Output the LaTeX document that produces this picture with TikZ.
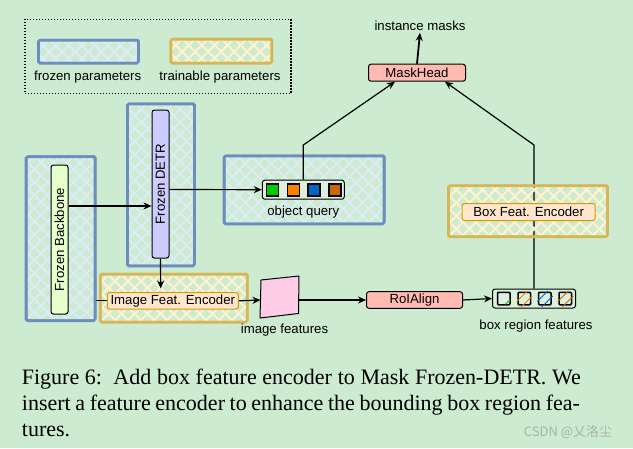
\documentclass[tikz,border=0pt]{standalone}
\usepackage{fontspec}
\setmainfont{Liberation Serif}
\setsansfont{Liberation Sans}
\newfontfamily\cjkfont{Noto Sans CJK SC}
\usetikzlibrary{arrows.meta,calc}
\definecolor{bg}{HTML}{CDEBD0}
\definecolor{frzline}{HTML}{6C8EBF}
\definecolor{frzhatch}{HTML}{DDEBF7}
\definecolor{trnline}{HTML}{D6B656}
\definecolor{trnhatch}{HTML}{FFF2CC}
\definecolor{detrfill}{HTML}{CCCCFF}
\definecolor{bbfill}{HTML}{E6FFCC}
\definecolor{salmon}{HTML}{FFBBB2}
\definecolor{encfill}{HTML}{FFE6CC}
\definecolor{encline}{HTML}{D79B00}
\definecolor{imgfill}{HTML}{FFCCE6}
\definecolor{qgreen}{HTML}{00CC00}
\definecolor{qorange}{HTML}{FF8000}
\definecolor{qblue}{HTML}{0066CC}
\definecolor{qbrown}{HTML}{CC6600}
\definecolor{qfill}{HTML}{DDF0DD}
\definecolor{wmgray}{HTML}{A8B5A9}
\newcommand{\dfont}{\sffamily\fontsize{13.2}{15}\selectfont}
\newcommand{\capfont}{\rmfamily\fontsize{22}{26}\selectfont}
\tikzset{
  hatchbox/.style 2 args={
    path picture={
      \foreach \k in {-182,-169,...,182} {
        \draw[#2, line width=2pt] ([xshift=\k pt]path picture bounding box.south west) -- ++(220pt,220pt);
        \draw[#2, line width=2pt] ([xshift=\k pt]path picture bounding box.south east) -- ++(-220pt,220pt);
      }
    },
    draw=#1, line width=2.6pt, rounded corners=1.5pt, inner sep=0pt,
    postaction={draw=#1, line width=1.2pt, transform canvas={shift={(0.9pt,0.8pt)}}}},
  frozen/.style={hatchbox={frzline}{frzhatch}},
  trainable/.style={hatchbox={trnline}{trnhatch}},
  blk/.style={draw=black, line width=1pt, rounded corners=2.5pt, inner sep=0pt, font=\dfont},
  enc/.style={blk, draw=encline, fill=encfill},
  lbl/.style={font=\dfont, inner sep=0pt},
  qsq/.style={draw=black, line width=1.6pt, minimum size=12pt, inner sep=0pt},
  cellbox/.style={draw=black, line width=1.5pt, minimum size=12.5pt, inner sep=0pt, rounded corners=1pt},
  arr/.style={-{Stealth[length=8pt,width=7pt]}, line width=1.2pt},
  plain/.style={line width=1.2pt}
}
\begin{document}
\begin{tikzpicture}[x=1pt,y=-1pt]
\useasboundingbox (0,0) rectangle (633,448);
\fill[bg] (0,0) rectangle (633,448);

% legend
\node[draw, dash pattern=on 1.3pt off 1.7pt, line width=1.3pt, minimum width=266pt, minimum height=74.4pt, inner sep=0pt] (legend) at (158,56.5) {};
\node[frozen, minimum width=100pt, minimum height=23pt] (legF) at (88.3,51.7) {};
\node[trainable, minimum width=101pt, minimum height=24pt] (legT) at (221.2,51.2) {};
\node[lbl, anchor=base] (legFt) at (87.7,80) {frozen parameters};
\node[lbl, anchor=base] (legTt) at (220,80) {trainable parameters};

% containers
\node[frozen, minimum width=67pt, minimum height=162pt] (detrC) at (160.8,185) {};
\node[frozen, minimum width=69pt, minimum height=164pt] (bbC) at (60.5,238.7) {};
\node[frozen, minimum width=160pt, minimum height=68pt] (oqC) at (304,190) {};
\node[trainable, minimum width=147pt, minimum height=48pt] (ifC) at (173.6,298.2) {};

% main nodes
\node[blk, fill=detrfill, minimum width=17pt, minimum height=148pt] (detr) at (160.5,184) {\rotatebox{90}{Frozen DETR}};
\node[blk, fill=bbfill, minimum width=17pt, minimum height=149pt] (bb) at (59.5,239.5) {\rotatebox{90}{Frozen Backbone}};
\node[blk, fill=qfill, minimum width=82pt, minimum height=19pt] (oq) at (303.3,189.7) {};
\node[qsq, fill=qgreen] (q1) at (272.6,189.7) {};
\node[qsq, fill=qorange] (q2) at (293.4,189.7) {};
\node[qsq, fill=qblue] (q3) at (314.2,189.7) {};
\node[qsq, fill=qbrown] (q4) at (335,189.7) {};
\node[lbl, anchor=base] (oqt) at (303.3,215.5) {object query};

\node[blk, fill=salmon, minimum width=97pt, minimum height=17pt] (mh) at (417,72.7) {MaskHead};
\node[lbl, anchor=base] (im) at (420,30.5) {instance masks};

\node[enc, minimum width=131pt, minimum height=16.5pt] (ife) at (172.8,300.8) {Image Feat. Encoder};
\node[blk, fill=salmon, minimum width=96pt, minimum height=16.6pt] (roi) at (414.5,300) {RoIAlign};
\node[blk, fill=qfill, minimum width=83pt, minimum height=19pt] (brf) at (534,298.5) {};
\foreach \i in {0,1,2,3} {
  \node[cellbox] (c\i) at (503.8+20.5*\i,298.5) {};
}
\draw[qgreen, line width=0.9pt] ($(c0.center)+(1.5,6)$) -- ($(c0.center)+(6,1.5)$);
\foreach \i/\c in {1/qorange,2/qblue,3/qbrown} {
  \draw[\c, line width=0.9pt] ($(c\i.center)+(-3,8.5)$) -- ($(c\i.center)+(8,-2.5)$);
  \draw[\c, line width=0.9pt] ($(c\i.center)+(-7.5,3)$) -- ($(c\i.center)+(3,-7.5)$);
}
\node[lbl, anchor=base] (brft) at (536,329) {box region features};

% image features
\coordinate (imgL) at (260.5,300);
\coordinate (imgR) at (298.5,300);
\draw[fill=imgfill, line width=1pt, line join=round] (261,280) -- (299,276) -- (298.5,313.5) -- (260,318) -- cycle;
\node[lbl, anchor=base] (imgt) at (284.5,333) {image features};

% connectors
\coordinate (yA) at (0,206);
\coordinate (yB) at (0,189.5);
\coordinate (ifeTop) at (160.7,288.5);
\coordinate (kL) at (303.3,145);
\coordinate (kR) at (534,145);
\draw[arr] (bb.east |- yA) -- (detr.west |- yA);
\draw[arr] (detr.east |- yB) -- (oq.west);
\draw[arr] (detr.south) -- (ifeTop);
\draw[plain] (bbC.east |- ife.west) -- (ife.west);
\draw[arr] (ife.east) -- (imgL);
\draw[arr] (imgR) -- (roi.west);
\draw[arr] (roi.east) -- (brf.west);
\draw[arr] (oq.north) -- (kL) -- ([xshift=-22pt]mh.south);
\draw[arr] (brf.north) -- (kR) -- ([xshift=28pt]mh.south);
\draw[arr, line width=1.8pt] (mh.north) -- ([yshift=-2pt]im.south);

% box feat encoder container and node, over the line
\node[trainable, minimum width=159pt, minimum height=51pt] (bfC) at (527.8,211.3) {};
\node[enc, minimum width=133pt, minimum height=17pt] (bfe) at (528.7,212) {Box Feat. Encoder};

% caption
\node[anchor=base west, inner sep=0pt] (cap1) at (21.7,384.3) {\capfont\makebox[559pt][s]{Figure 6:\ \ Add box feature encoder to Mask Frozen-DETR. We}};
\node[anchor=base west, inner sep=0pt] (cap2) at (21.7,410.3) {\capfont\makebox[558pt][s]{insert a feature encoder to enhance the bounding box region fea-}};
\node[anchor=base west, inner sep=0pt] (cap3) at (21.7,436.5) {\capfont tures.};
\node[inner sep=0pt, text=wmgray, font=\cjkfont\fontsize{13}{15}\selectfont] (wm) at (568,432) {CSDN @乂洛尘};
\end{tikzpicture}
\end{document}
